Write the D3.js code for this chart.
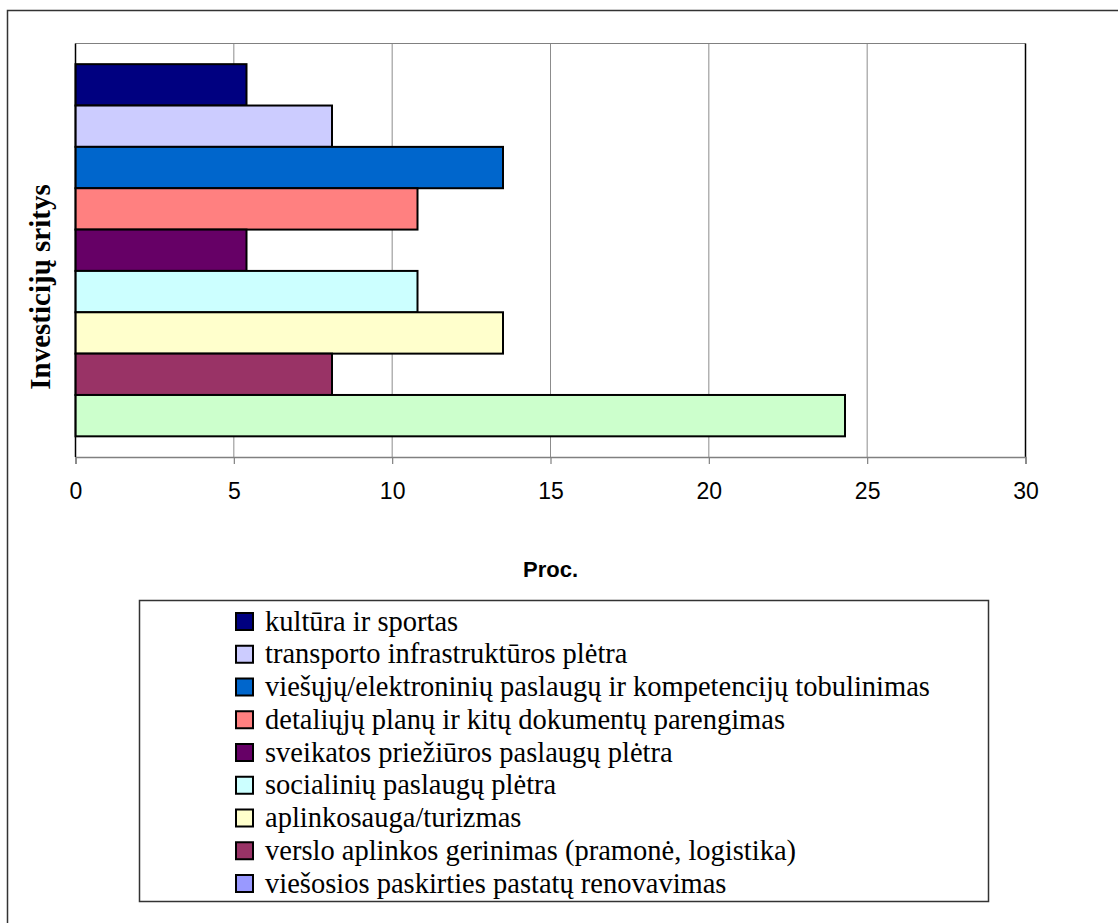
<!DOCTYPE html>
<html>
<head>
<meta charset="utf-8">
<script src="https://cdn.jsdelivr.net/npm/d3@7"></script>
<style>
  html, body { margin: 0; padding: 0; background: #fff; }
  svg { display: block; }
  .serif { font-family: "Liberation Serif", "Times New Roman", Times, serif; }
  .sans { font-family: "Liberation Sans", Arial, Helvetica, sans-serif; }
</style>
</head>
<body>
<svg id="chart" width="1118" height="923"></svg>
<script>
// Investment areas, shares in percent
const categories = [
  "kultūra ir sportas",
  "transporto infrastruktūros plėtra",
  "viešųjų/elektroninių paslaugų ir kompetencijų tobulinimas",
  "detaliųjų planų ir kitų dokumentų parengimas",
  "sveikatos priežiūros paslaugų plėtra",
  "socialinių paslaugų plėtra",
  "aplinkosauga/turizmas",
  "verslo aplinkos gerinimas (pramonė, logistika)",
  "viešosios paskirties pastatų renovavimas"
];
const values = [5.4, 8.1, 13.5, 10.8, 5.4, 10.8, 13.5, 8.1, 24.3];
const barColors = ["#000080", "#CCCCFF", "#0066CC", "#FF8080", "#660066", "#CCFFFF", "#FFFFCC", "#993366", "#CCFFCC"];
const legendColors = ["#000080", "#CCCCFF", "#0066CC", "#FF8080", "#660066", "#CCFFFF", "#FFFFCC", "#993366", "#9999FF"];
const xTicks = [0, 5, 10, 15, 20, 25, 30];
const xTitle = "Proc.";
const yTitle = "Investicijų sritys";

const svg = d3.select("#chart");

// outer chart frame
svg.append("rect")
  .attr("x", 7.5).attr("y", 10.5)
  .attr("width", 1130).attr("height", 940)
  .attr("fill", "none").attr("stroke", "#333").attr("stroke-width", 1.5);

const plot = { left: 75.5, right: 1025.5, top: 43.5, bottom: 457 };

const x = d3.scaleLinear().domain([0, 30]).range([plot.left, plot.right]);
const y = d3.scaleBand().domain(categories)
  .range([plot.top, plot.bottom]).paddingInner(0).paddingOuter(0.5);

// gridlines
svg.append("g").selectAll("line")
  .data(xTicks.filter(t => t > 0 && t < 30))
  .join("line")
  .attr("x1", d => x(d)).attr("x2", d => x(d))
  .attr("y1", plot.top).attr("y2", plot.bottom)
  .attr("stroke", "#8c8c8c").attr("stroke-width", 1);

// plot border: top grey, right black
svg.append("line")
  .attr("x1", plot.left).attr("x2", plot.right)
  .attr("y1", plot.top).attr("y2", plot.top)
  .attr("stroke", "#808080").attr("stroke-width", 1.2);
svg.append("line")
  .attr("x1", plot.right).attr("x2", plot.right)
  .attr("y1", plot.top).attr("y2", plot.bottom)
  .attr("stroke", "#000").attr("stroke-width", 1.5);

// bars
svg.append("g").selectAll("rect")
  .data(values)
  .join("rect")
  .attr("x", x(0))
  .attr("y", (d, i) => y(categories[i]))
  .attr("width", d => x(d) - x(0))
  .attr("height", y.bandwidth())
  .attr("fill", (d, i) => barColors[i])
  .attr("stroke", "#000").attr("stroke-width", 2);

// x axis
const xAxis = d3.axisBottom(x).tickValues(xTicks).tickSize(7).tickPadding(19);
const gx = svg.append("g")
  .attr("transform", `translate(0,${plot.bottom})`)
  .call(xAxis)
  .attr("font-family", null).attr("font-size", null)
  .attr("class", "sans");
gx.select(".domain").attr("stroke", "#808080").attr("stroke-width", 1.5);
gx.selectAll(".tick line").attr("stroke", "#808080").attr("stroke-width", 1.2);
gx.selectAll(".tick text")
  .style("font-size", "23px").attr("fill", "#000");

// category axis line
svg.append("line")
  .attr("x1", plot.left).attr("x2", plot.left)
  .attr("y1", plot.top).attr("y2", plot.bottom)
  .attr("stroke", "#000").attr("stroke-width", 1.5);

// axis titles
svg.append("text")
  .attr("class", "sans")
  .attr("x", (plot.left + plot.right) / 2).attr("y", 577)
  .attr("text-anchor", "middle")
  .style("font-weight", "bold").style("font-size", "22px")
  .text(xTitle);

svg.append("text")
  .attr("class", "serif")
  .attr("transform", "translate(50,287) rotate(-90)")
  .attr("text-anchor", "middle")
  .style("font-weight", "bold").style("font-size", "29px")
  .text(yTitle);

// legend
const legend = { x: 139.5, y: 600.5, w: 849, h: 301 };
svg.append("rect")
  .attr("x", legend.x).attr("y", legend.y)
  .attr("width", legend.w).attr("height", legend.h)
  .attr("fill", "#fff").attr("stroke", "#333").attr("stroke-width", 1.5);

const rowY = d3.scalePoint().domain(categories).range([621.5, 883.5]);
const items = svg.append("g").selectAll("g")
  .data(categories)
  .join("g")
  .attr("transform", d => `translate(236,${rowY(d)})`);
items.append("rect")
  .attr("x", 0).attr("y", -8.5)
  .attr("width", 17).attr("height", 17)
  .attr("fill", (d, i) => legendColors[i])
  .attr("stroke", "#000").attr("stroke-width", 2);
items.append("text")
  .attr("class", "serif")
  .attr("x", 29).attr("y", 9)
  .style("font-size", "28.5px").attr("fill", "#000")
  .text(d => d);
</script>
</body>
</html>
